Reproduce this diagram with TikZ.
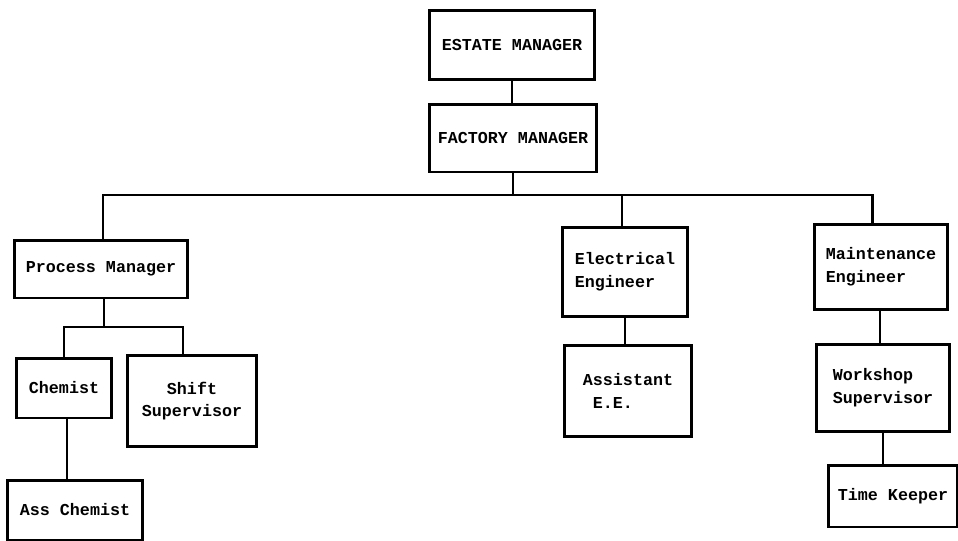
\documentclass[tikz,border=0pt]{standalone}
\usepackage{fontspec}
\setmonofont{Liberation Mono}
\begin{document}
\begin{tikzpicture}[x=0.02cm, y=-0.02cm,
  post/.style={draw, line width=1.7pt, align=left, inner sep=2pt,
    font=\ttfamily\bfseries\fontsize{9.5}{13}\selectfont},
  link/.style={line width=1.7pt}]
\useasboundingbox (0,0) rectangle (958,541);
% top of the chart
\node[post, minimum width=3.3cm, minimum height=1.4cm] (em) at (512,45) {ESTATE MANAGER};
\node[post, minimum width=3.34cm, minimum height=1.36cm] (fm) at (513,138) {FACTORY MANAGER};
% heads of sections
\node[post, minimum width=3.46cm, minimum height=1.16cm] (pm) at (101,269) {Process Manager};
\node[post, minimum width=2.52cm, minimum height=1.78cm] (ee) at (625,272) {Electrical\\Engineer};
\node[post, minimum width=2.66cm, minimum height=1.7cm] (me) at (881,267) {Maintenance\\Engineer};
% staff below them
\node[post, minimum width=1.9cm, minimum height=1.2cm] (ch) at (64,388) {Chemist};
\node[post, align=center, minimum width=2.6cm, minimum height=1.84cm] (ss) at (192,401) {Shift\\Supervisor};
\node[post, minimum width=2.7cm, minimum height=1.2cm] (ac) at (75,510) {Ass Chemist};
\node[post, minimum width=2.54cm, minimum height=1.84cm] (ae) at (628,391) {Assistant\\\phantom{A}E.E.};
\node[post, minimum width=2.66cm, minimum height=1.74cm] (ws) at (883,388) {Workshop\\Supervisor};
\node[post, minimum width=2.6cm, minimum height=1.24cm] (tk) at (893,496) {Time Keeper};

\coordinate (bus) at (512,195); %main bus
\coordinate (sub) at (104,327); %process bus

\draw[link] (em.south) -- (em.south |- fm.north);
\draw[link] (fm.south) -- (fm.south |- bus);
\draw[link] ([xshift=0.04cm]pm.north) -- ([xshift=0.04cm]pm.north |- bus) -- ([xshift=-0.18cm]me.north |- bus) -- ([xshift=-0.18cm]me.north);
\draw[link] ([xshift=-0.06cm]ee.north) -- ([xshift=-0.06cm]ee.north |- bus);
\draw[link] ([xshift=0.06cm]pm.south) -- ([xshift=0.06cm]pm.south |- sub);
\draw[link] (ch.north) -- (ch.north |- sub) -- ([xshift=-0.18cm]ss.north |- sub) -- ([xshift=-0.18cm]ss.north);
\draw[link] ([xshift=0.06cm]ch.south) -- ([xshift=0.06cm]ch.south |- ac.north);
\draw[link] (ee.south) -- (ee.south |- ae.north);
\draw[link] (ws.south) -- (ws.south |- tk.north);
\draw[link] ([xshift=-0.02cm]me.south) -- ([xshift=-0.02cm]me.south |- ws.north);
\end{tikzpicture}
\end{document}
